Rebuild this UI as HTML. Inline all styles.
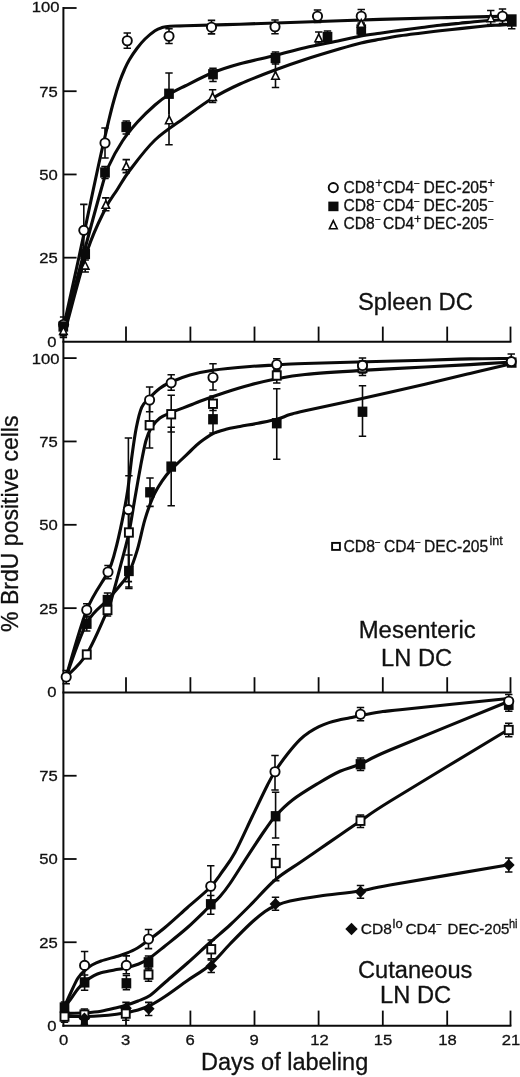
<!DOCTYPE html>
<html lang="en">
<head>
<meta charset="utf-8">
<title>BrdU labeling kinetics of dendritic cell subsets</title>
<style>
html,body{margin:0;padding:0;background:#fff;}
body{width:520px;height:1077px;overflow:hidden;}
svg{display:block;will-change:transform;opacity:0.999;}
text{font-family:"Liberation Sans",sans-serif;fill:#111;stroke:#111;stroke-width:0.3;}
.ax{stroke:#0a0a0a;stroke-width:2;fill:none;stroke-linecap:butt;}
.tk{stroke:#0a0a0a;stroke-width:1.8;fill:none;}
.cv{stroke:#0a0a0a;stroke-width:3.1;fill:none;stroke-linecap:round;stroke-linejoin:round;}
.eb{stroke:#0a0a0a;stroke-width:1.6;fill:none;}
.mo{stroke:#0a0a0a;stroke-width:1.9;fill:#fff;stroke-linejoin:miter;}
.mt{stroke:#0a0a0a;stroke-width:1.6;fill:#fff;stroke-linejoin:miter;}
.mf{stroke:none;fill:#0a0a0a;}
</style>
</head>
<body>
<svg width="520" height="1077" viewBox="0 0 520 1077">
<rect width="520" height="1077" fill="#fff"/>
<g>
<path class="ax" d="M63.4 7.1V1026.8"/>
<path class="ax" d="M62.4 341.8H511.4"/>
<path class="tk" d="M126 341.8V326.6"/>
<path class="tk" d="M190.4 341.8V326.6"/>
<path class="tk" d="M254.5 341.8V326.6"/>
<path class="tk" d="M318.6 341.8V326.6"/>
<path class="tk" d="M382.8 341.8V326.6"/>
<path class="tk" d="M447.2 341.8V326.6"/>
<path class="tk" d="M510.5 341.8V326.6"/>
<path class="tk" d="M63.4 257.67H76.6"/>
<path class="tk" d="M63.4 174.45H76.6"/>
<path class="tk" d="M63.4 91.22H76.6"/>
<path class="tk" d="M63.4 8H76.6"/>
<path class="ax" d="M62.4 692.4H511.4"/>
<path class="tk" d="M126 692.4V677.2"/>
<path class="tk" d="M190.4 692.4V677.2"/>
<path class="tk" d="M254.5 692.4V677.2"/>
<path class="tk" d="M318.6 692.4V677.2"/>
<path class="tk" d="M382.8 692.4V677.2"/>
<path class="tk" d="M447.2 692.4V677.2"/>
<path class="tk" d="M510.5 692.4V677.2"/>
<path class="tk" d="M63.4 608.15H76.6"/>
<path class="tk" d="M63.4 524.8H76.6"/>
<path class="tk" d="M63.4 441.45H76.6"/>
<path class="tk" d="M63.4 358.1H76.6"/>
<path class="ax" d="M62.4 1025.8H511.4"/>
<path class="tk" d="M126 1025.8V1010.6"/>
<path class="tk" d="M190.4 1025.8V1010.6"/>
<path class="tk" d="M254.5 1025.8V1010.6"/>
<path class="tk" d="M318.6 1025.8V1010.6"/>
<path class="tk" d="M382.8 1025.8V1010.6"/>
<path class="tk" d="M447.2 1025.8V1010.6"/>
<path class="tk" d="M510.5 1025.8V1010.6"/>
<path class="tk" d="M63.4 942.25H76.6"/>
<path class="tk" d="M63.4 859H76.6"/>
<path class="tk" d="M63.4 775.75H76.6"/>
<path class="cv" d="M66.6 325C70.07 312.58 80.93 269.88 87.4 250.5C93.87 231.12 100.47 218.78 105.4 208.7C110.33 198.62 112.9 196.45 117 190C121.1 183.55 123.67 178.33 130 170C136.33 161.67 145.83 148.75 155 140C164.17 131.25 175.42 124.45 185 117.5C194.58 110.55 203.33 103.88 212.5 98.3C221.67 92.72 229.58 88.72 240 84C250.42 79.28 264.17 74.08 275 70C285.83 65.92 294.17 63.03 305 59.5C315.83 55.97 330.67 51.55 340 48.8C349.33 46.05 354.33 44.58 361 43C367.67 41.42 373.5 40.5 380 39.3C386.5 38.1 393.33 36.82 400 35.8C406.67 34.78 413.33 34.03 420 33.2C426.67 32.37 433.33 31.57 440 30.8C446.67 30.03 453.33 29.32 460 28.6C466.67 27.88 474.17 27.05 480 26.5C485.83 25.95 490.33 25.63 495 25.3C499.67 24.97 505.83 24.63 508 24.5"/>
<path class="cv" d="M65 325C68.5 311.67 80 267.5 86 245C92 222.5 97.21 203.17 101 190C104.79 176.83 105.17 174.17 108.75 166C112.33 157.83 117.71 148.33 122.5 141C127.29 133.67 132.08 128 137.5 122C142.92 116 149.75 109.58 155 105C160.25 100.42 164 97.67 169 94.5C174 91.33 177.75 89.62 185 86C192.25 82.38 203.33 76.51 212.5 72.8C221.67 69.09 229.58 66.63 240 63.75C250.42 60.87 264.17 58.16 275 55.5C285.83 52.84 294.17 50.28 305 47.8C315.83 45.32 330.67 42.57 340 40.6C349.33 38.63 354.33 37.23 361 36C367.67 34.77 373.5 34.13 380 33.2C386.5 32.27 393.33 31.3 400 30.4C406.67 29.5 413.33 28.65 420 27.8C426.67 26.95 433.33 26.07 440 25.3C446.67 24.53 453.33 23.88 460 23.2C466.67 22.52 474.17 21.7 480 21.2C485.83 20.7 490.33 20.47 495 20.2C499.67 19.93 505.83 19.7 508 19.6"/>
<path class="cv" d="M64 325C66.5 313.67 74.13 279.5 79 257C83.87 234.5 89.53 207.17 93.2 190C96.87 172.83 98.41 165.58 101 154C103.59 142.42 106.58 129.5 108.75 120.5C110.92 111.5 112.19 106.45 114 100C115.81 93.55 117.85 86.88 119.6 81.8C121.35 76.72 122.9 73.13 124.5 69.5C126.1 65.87 127.13 63.5 129.2 60C131.27 56.5 134.27 52 136.9 48.5C139.53 45 141.98 41.97 145 39C148.02 36.03 152.17 32.6 155 30.7C157.83 28.8 159.5 28.35 162 27.6C164.5 26.85 166.17 26.51 170 26.2C173.83 25.89 173.33 26.08 185 25.75C196.67 25.42 220 24.82 240 24.2C260 23.57 281.67 22.8 305 22C328.33 21.2 357.5 20.1 380 19.4C402.5 18.7 422.05 18.27 440 17.8C457.95 17.33 477.37 16.85 487.7 16.6C498.03 16.35 499.62 16.35 502 16.3"/>
<path class="eb" d="M63.6 317V330M59.9 317H67.3M59.9 330H67.3"/>
<path class="eb" d="M83.8 204.4V256M80.1 204.4H87.5M80.1 256H87.5"/>
<path class="eb" d="M105 128V158M101.3 128H108.7M101.3 158H108.7"/>
<path class="eb" d="M127.25 33V48.3M123.55 33H130.95M123.55 48.3H130.95"/>
<path class="eb" d="M169 28.75V43.5M165.3 28.75H172.7M165.3 43.5H172.7"/>
<path class="eb" d="M211.5 20.4V33.9M207.8 20.4H215.2M207.8 33.9H215.2"/>
<path class="eb" d="M275 20V33.75M271.3 20H278.7M271.3 33.75H278.7"/>
<path class="eb" d="M317.5 10V22.5M313.8 10H321.2M313.8 22.5H321.2"/>
<path class="eb" d="M361.25 9.5V23M357.55 9.5H364.95M357.55 23H364.95"/>
<path class="eb" d="M502.5 9V23.5M498.8 9H506.2M498.8 23.5H506.2"/>
<path class="eb" d="M63.3 322V335.7M59.6 322H67M59.6 335.7H67"/>
<path class="eb" d="M85.2 248V260M81.5 248H88.9M81.5 260H88.9"/>
<path class="eb" d="M105 166.5V178.5M101.3 166.5H108.7M101.3 178.5H108.7"/>
<path class="eb" d="M126.25 121V134M122.55 121H129.95M122.55 134H129.95"/>
<path class="eb" d="M169 73V114M165.3 73H172.7"/>
<path class="eb" d="M213 68.3V81.5M209.3 68.3H216.7M209.3 81.5H216.7"/>
<path class="eb" d="M275.5 52V64M271.8 52H279.2M271.8 64H279.2"/>
<path class="eb" d="M327.5 31V43M323.8 31H331.2M323.8 43H331.2"/>
<path class="eb" d="M361.25 24V34.8M357.55 24H364.95M357.55 34.8H364.95"/>
<path class="eb" d="M511.75 16V28.75M508.05 16H515.45M508.05 28.75H515.45"/>
<path class="eb" d="M63.4 326V337.4M59.7 326H67.1M59.7 337.4H67.1"/>
<path class="eb" d="M85.2 258V272M81.5 258H88.9M81.5 272H88.9"/>
<path class="eb" d="M105.8 197.9V210.8M102.1 197.9H109.5M102.1 210.8H109.5"/>
<path class="eb" d="M126.25 159.6V172.6M122.55 159.6H129.95M122.55 172.6H129.95"/>
<path class="eb" d="M169 94.5V144.7M165.3 144.7H172.7"/>
<path class="eb" d="M212.6 89.7V102.4M208.9 89.7H216.3M208.9 102.4H216.3"/>
<path class="eb" d="M275.5 62.5V87.5M271.8 62.5H279.2M271.8 87.5H279.2"/>
<path class="eb" d="M318.75 32V43M315.05 32H322.45M315.05 43H322.45"/>
<path class="eb" d="M361.25 18V28M357.55 18H364.95M357.55 28H364.95"/>
<path class="eb" d="M490.75 10.5V24.5M487.05 10.5H494.45M487.05 24.5H494.45"/>
<circle class="mo" cx="63.6" cy="324.5" r="4.6"/>
<circle class="mo" cx="83.8" cy="230.3" r="4.6"/>
<circle class="mo" cx="105" cy="143" r="4.6"/>
<circle class="mo" cx="127.25" cy="40.75" r="4.6"/>
<circle class="mo" cx="169" cy="36.25" r="4.6"/>
<circle class="mo" cx="211.5" cy="27.2" r="4.6"/>
<circle class="mo" cx="275" cy="26.75" r="4.6"/>
<circle class="mo" cx="317.5" cy="16.25" r="4.6"/>
<circle class="mo" cx="361.25" cy="16.25" r="4.6"/>
<circle class="mo" cx="502.5" cy="16.25" r="4.6"/>
<rect class="mf" x="58.45" y="321.35" width="9.7" height="10.3"/>
<rect class="mf" x="80.35" y="248.85" width="9.7" height="10.3"/>
<rect class="mf" x="100.15" y="167.35" width="9.7" height="10.3"/>
<rect class="mf" x="121.4" y="121.85" width="9.7" height="10.3"/>
<rect class="mf" x="164.15" y="88.6" width="9.7" height="10.3"/>
<rect class="mf" x="208.15" y="69.1" width="9.7" height="10.3"/>
<rect class="mf" x="270.65" y="52.85" width="9.7" height="10.3"/>
<rect class="mf" x="322.65" y="31.85" width="9.7" height="10.3"/>
<rect class="mf" x="356.4" y="24.35" width="9.7" height="10.3"/>
<rect class="mf" x="506.9" y="14.3" width="9.7" height="12.4"/>
<path class="mt" d="M63.4 326.8L67.15 334.4H59.65Z"/>
<path class="mt" d="M85.2 261.5L88.95 269.1H81.45Z"/>
<path class="mt" d="M105.8 200.7L109.55 208.3H102.05Z"/>
<path class="mt" d="M126.25 162.2L130 169.8H122.5Z"/>
<path class="mt" d="M169.25 116.1L173 123.7H165.5Z"/>
<path class="mt" d="M212.6 92.9L216.35 100.5H208.85Z"/>
<path class="mt" d="M275.5 71.6L279.25 79.2H271.75Z"/>
<path class="mt" d="M318.75 34.1L322.5 41.7H315Z"/>
<path class="mt" d="M361.25 19.6L365 27.2H357.5Z"/>
<path class="mt" d="M490.75 14.1L494.5 21.7H487Z"/>
<path class="cv" d="M66 677C69.46 668 79.83 635.83 86.75 623C93.67 610.17 101.72 606.53 107.5 600C113.28 593.47 117.83 588.3 121.4 583.8C124.97 579.3 126.23 578.7 128.9 573C131.57 567.3 134.73 558.5 137.4 549.6C140.07 540.7 142.23 528.52 144.9 519.6C147.57 510.68 150.55 502.5 153.4 496.1C156.25 489.7 159.03 485.65 162 481.2C164.97 476.75 168.2 472.77 171.2 469.4C174.2 466.03 176.87 463.98 180 461C183.13 458.02 186.67 454.62 190 451.5C193.33 448.38 196.17 445.28 200 442.3C203.83 439.32 208.67 435.77 213 433.6C217.33 431.43 221.5 430.48 226 429.3C230.5 428.12 234.67 427.52 240 426.5C245.33 425.48 251.88 424.4 258 423.2C264.12 422 271.42 420.73 276.75 419.3C282.08 417.87 285.29 416.02 290 414.6C294.71 413.18 293 413.5 305 410.8C317 408.1 342 402.83 362 398.4C382 393.97 407 388.35 425 384.2C443 380.05 456.33 376.73 470 373.5C483.67 370.27 500.83 366.25 507 364.8"/>
<path class="cv" d="M66 677C69.46 673.17 79.83 665.17 86.75 654C93.67 642.83 103.16 619.92 107.5 610C111.84 600.08 110.48 602.43 112.8 594.5C115.12 586.57 118.72 572.65 121.4 562.4C124.08 552.15 126.77 542.98 128.9 533C131.03 523.02 132.25 513.63 134.2 502.5C136.15 491.37 138.63 476.53 140.6 466.2C142.57 455.87 144.22 446.92 146 440.5C147.78 434.08 148.98 431.43 151.3 427.7C153.62 423.97 156.58 420.63 159.9 418.1C163.22 415.57 166.18 414.63 171.2 412.5C176.22 410.37 185.2 407.18 190 405.3C194.8 403.43 194.17 403.38 200 401.25C205.83 399.12 216.67 395.21 225 392.5C233.33 389.79 241.38 387.29 250 385C258.62 382.71 267.58 380.5 276.75 378.75C285.92 377 290.79 375.89 305 374.5C319.21 373.11 342 371.65 362 370.4C382 369.15 407 367.97 425 367C443 366.03 456.17 365.4 470 364.6C483.83 363.8 501.67 362.6 508 362.2"/>
<path class="cv" d="M66 677C69.46 665.83 79.75 627.5 86.75 610C93.75 592.5 103.29 581.72 108 572C112.71 562.28 112.6 560.43 115 551.7C117.4 542.97 120.27 529.93 122.4 519.6C124.53 509.27 126.2 500.38 127.8 489.7C129.4 479.02 130.58 465.83 132 455.5C133.42 445.17 134.68 435.72 136.3 427.7C137.92 419.68 139.48 412.38 141.7 407.4C143.92 402.42 146.57 401 149.6 397.8C152.63 394.6 156.33 390.83 159.9 388.2C163.47 385.57 165.98 384.2 171 382C176.02 379.8 183 376.97 190 375C197 373.03 203 371.62 213 370.2C223 368.78 239.38 367.37 250 366.5C260.62 365.63 267.58 365.5 276.75 365C285.92 364.5 280.29 364.3 305 363.5C329.71 362.7 397.5 360.97 425 360.2C452.5 359.43 456.17 359.18 470 358.9C483.83 358.62 501.67 358.57 508 358.5"/>
<path class="eb" d="M86.75 617V631M83.05 617H90.45M83.05 631H90.45"/>
<path class="eb" d="M107.5 593V607M103.8 593H111.2M103.8 607H111.2"/>
<path class="eb" d="M128.9 555V587M125.2 555H132.6M125.2 587H132.6"/>
<path class="eb" d="M150 478V506.4M146.3 478H153.7M146.3 506.4H153.7"/>
<path class="eb" d="M171.2 427.3V505.7M167.5 427.3H174.9M167.5 505.7H174.9"/>
<path class="eb" d="M213 405.5V433M209.3 405.5H216.7M209.3 433H216.7"/>
<path class="eb" d="M276.75 388.75V459.25M273.05 388.75H280.45M273.05 459.25H280.45"/>
<path class="eb" d="M362.5 385.75V436.25M358.8 385.75H366.2M358.8 436.25H366.2"/>
<path class="eb" d="M86.75 651V658M83.05 651H90.45M83.05 658H90.45"/>
<path class="eb" d="M107.5 604V616M103.8 604H111.2M103.8 616H111.2"/>
<path class="eb" d="M128.9 475.8V588.5M125.2 475.8H132.6M125.2 588.5H132.6"/>
<path class="eb" d="M149.6 402V448M145.9 402H153.3M145.9 448H153.3"/>
<path class="eb" d="M171.2 395.2V432M167.5 395.2H174.9M167.5 432H174.9"/>
<path class="eb" d="M213 396V410.5M209.3 396H216.7M209.3 410.5H216.7"/>
<path class="eb" d="M276.75 369V383M273.05 369H280.45M273.05 383H280.45"/>
<path class="eb" d="M362.5 361V375.5M358.8 361H366.2M358.8 375.5H366.2"/>
<path class="eb" d="M66.2 670.5V683.7M62.5 670.5H69.9M62.5 683.7H69.9"/>
<path class="eb" d="M86.75 603.75V616.3M83.05 603.75H90.45M83.05 616.3H90.45"/>
<path class="eb" d="M108 565.5V578.75M104.3 565.5H111.7M104.3 578.75H111.7"/>
<path class="eb" d="M128.4 438V581.6M124.7 438H132.1M124.7 581.6H132.1"/>
<path class="eb" d="M149.6 387V411.7M145.9 387H153.3M145.9 411.7H153.3"/>
<path class="eb" d="M171.2 374.7V390.3M167.5 374.7H174.9M167.5 390.3H174.9"/>
<path class="eb" d="M213 363.75V390M209.3 363.75H216.7M209.3 390H216.7"/>
<path class="eb" d="M276.75 358.75V370.3M273.05 358.75H280.45M273.05 370.3H280.45"/>
<path class="eb" d="M362.5 358V373M358.8 358H366.2M358.8 373H366.2"/>
<path class="eb" d="M511.25 354V366M507.55 354H514.95M507.55 366H514.95"/>
<rect class="mf" x="81.9" y="618.6" width="9.7" height="10.3"/>
<rect class="mf" x="102.65" y="594.85" width="9.7" height="10.3"/>
<rect class="mf" x="124.05" y="565.85" width="9.7" height="10.3"/>
<rect class="mf" x="145.15" y="487.15" width="9.7" height="10.3"/>
<rect class="mf" x="166.35" y="461.45" width="9.7" height="10.3"/>
<rect class="mf" x="208.15" y="414.1" width="9.7" height="10.3"/>
<rect class="mf" x="271.9" y="418.1" width="9.7" height="10.3"/>
<rect class="mf" x="357.65" y="406.6" width="9.7" height="10.3"/>
<rect class="mf" x="506.85" y="357.45" width="9.7" height="10.3"/>
<rect class="mo" x="82.75" y="650.3" width="8" height="8.4"/>
<rect class="mo" x="103.5" y="605.8" width="8" height="8.4"/>
<rect class="mo" x="124.9" y="528.3" width="8" height="8.4"/>
<rect class="mo" x="145.6" y="421" width="8" height="8.4"/>
<rect class="mo" x="167.2" y="410.05" width="8" height="8.4"/>
<rect class="mo" x="209" y="399.55" width="8" height="8.4"/>
<rect class="mo" x="272.75" y="371.3" width="8" height="8.4"/>
<rect class="mo" x="358.5" y="363.8" width="8" height="8.4"/>
<circle class="mo" cx="66.2" cy="677" r="4.6"/>
<circle class="mo" cx="86.75" cy="610" r="4.6"/>
<circle class="mo" cx="108" cy="572" r="4.6"/>
<circle class="mo" cx="128.4" cy="509.6" r="4.6"/>
<circle class="mo" cx="149.6" cy="400" r="4.6"/>
<circle class="mo" cx="171.2" cy="382.8" r="4.6"/>
<circle class="mo" cx="213" cy="377.5" r="4.6"/>
<circle class="mo" cx="276.75" cy="364.5" r="4.6"/>
<circle class="mo" cx="362.5" cy="365.5" r="4.6"/>
<circle class="mo" cx="511.25" cy="361.6" r="4.6"/>
<path class="cv" d="M64 1016.5C67.63 1016.5 79.63 1016.62 85.8 1016.5C91.97 1016.38 95.88 1016.18 101 1015.8C106.12 1015.42 112.37 1014.72 116.5 1014.2C120.63 1013.68 122.22 1013.4 125.8 1012.7C129.38 1012 133.97 1011.2 138 1010C142.03 1008.8 145.5 1007.75 150 1005.5C154.5 1003.25 158.75 1000.67 165 996.5C171.25 992.33 180 985.75 187.5 980.5C195 975.25 202.92 971.08 210 965C217.08 958.92 223.33 950.83 230 944C236.67 937.17 244.17 929.42 250 924C255.83 918.58 260.83 914.5 265 911.5C269.17 908.5 270.83 907.75 275 906C279.17 904.25 282.5 902.67 290 901C297.5 899.33 308.33 897.67 320 896C331.67 894.33 348.33 892.83 360 891C371.67 889.17 365.67 889.28 390 885C414.33 880.72 486.67 868.58 506 865.3"/>
<path class="cv" d="M64 1013.5C67.63 1013.37 79.63 1013.08 85.8 1012.7C91.97 1012.32 95.88 1012.02 101 1011.2C106.12 1010.38 112.37 1008.78 116.5 1007.8C120.63 1006.82 122.22 1006.43 125.8 1005.3C129.38 1004.17 133.97 1002.63 138 1001C142.03 999.37 145.5 998.58 150 995.5C154.5 992.42 158.75 987.92 165 982.5C171.25 977.08 180 969.67 187.5 963C195 956.33 202.92 948.83 210 942.5C217.08 936.17 223.33 931.17 230 925C236.67 918.83 242.5 913 250 905.5C257.5 898 266.67 887.17 275 880C283.33 872.83 292.5 867.71 300 862.5C307.5 857.29 313.33 853.33 320 848.75C326.67 844.17 333.25 839.62 340 835C346.75 830.38 352.17 826.62 360.5 821C368.83 815.38 365.75 816.25 390 801.25C414.25 786.25 486.67 742.71 506 731"/>
<path class="cv" d="M64.2 1007.3C65.23 1006.02 68.1 1002.68 70.4 999.6C72.7 996.52 75.43 991.9 78 988.8C80.57 985.7 83.22 983.17 85.8 981C88.38 978.83 90.97 977.18 93.5 975.8C96.03 974.42 97.17 973.73 101 972.7C104.83 971.67 112.37 970.38 116.5 969.6C120.63 968.82 122.22 968.88 125.8 968C129.38 967.12 134.18 965.84 138 964.3C141.82 962.76 144.25 961.8 148.75 958.75C153.25 955.7 158.54 951.21 165 946C171.46 940.79 180 934.17 187.5 927.5C195 920.83 204.58 911.17 210 906C215.42 900.83 216.67 900.25 220 896.5C223.33 892.75 225.42 890.2 230 883.5C234.58 876.8 241.67 865.22 247.5 856.3C253.33 847.38 260.33 836.72 265 830C269.67 823.28 270.92 821 275.5 816C280.08 811 285.5 805.38 292.5 800C299.5 794.62 309.58 788.54 317.5 783.75C325.42 778.96 332.83 774.54 340 771.25C347.17 767.96 352.17 767.54 360.5 764C368.83 760.46 365.75 760.25 390 750C414.25 739.75 486.67 710.42 506 702.5"/>
<path class="cv" d="M64.2 1007.3C65.23 1005 68.1 998.38 70.4 993.5C72.7 988.62 75.43 981.98 78 978C80.57 974.02 83.47 971.77 85.8 969.6C88.13 967.43 89.47 966.43 92 965C94.53 963.57 96.92 962.42 101 961C105.08 959.58 112.37 957.75 116.5 956.5C120.63 955.25 122.3 954.92 125.8 953.5C129.3 952.08 133.68 950.25 137.5 948C141.32 945.75 144.17 943.42 148.75 940C153.33 936.58 158.54 932.92 165 927.5C171.46 922.08 180 914.17 187.5 907.5C195 900.83 204.25 893.42 210 887.5C215.75 881.58 217.83 877.83 222 872C226.17 866.17 229.92 861.83 235 852.5C240.08 843.17 247.08 827.25 252.5 816C257.92 804.75 263.75 792.42 267.5 785C271.25 777.58 271.67 776.67 275 771.5C278.33 766.33 283.33 759.32 287.5 754C291.67 748.68 296.25 743.3 300 739.6C303.75 735.9 306.83 733.97 310 731.8C313.17 729.63 315.83 728.13 319 726.6C322.17 725.07 325.83 723.67 329 722.6C332.17 721.53 334.5 721 338 720.2C341.5 719.4 346.25 718.58 350 717.8C353.75 717.02 355.5 716.47 360.5 715.5C365.5 714.53 373.42 712.97 380 712C386.58 711.03 379 711.91 400 709.7C421 707.49 488.33 700.58 506 698.75"/>
<path class="eb" d="M84.4 1013V1024.6M80.7 1013H88.1M80.7 1024.6H88.1"/>
<path class="eb" d="M126 1002.4V1013M122.3 1002.4H129.7M122.3 1013H129.7"/>
<path class="eb" d="M148.7 1002.4V1015.5M145 1002.4H152.4M145 1015.5H152.4"/>
<path class="eb" d="M211.25 960V972.5M207.55 960H214.95M207.55 972.5H214.95"/>
<path class="eb" d="M275.5 897.25V910.25M271.8 897.25H279.2M271.8 910.25H279.2"/>
<path class="eb" d="M360.5 885.5V898.25M356.8 885.5H364.2M356.8 898.25H364.2"/>
<path class="eb" d="M508.75 858V872M505.05 858H512.45M505.05 872H512.45"/>
<path class="eb" d="M64.5 1002V1013M60.8 1002H68.2M60.8 1013H68.2"/>
<path class="eb" d="M84.6 975V990.2M80.9 975H88.3M80.9 990.2H88.3"/>
<path class="eb" d="M126.4 975.5V989.8M122.7 975.5H130.1M122.7 989.8H130.1"/>
<path class="eb" d="M148.5 956V969M144.8 956H152.2M144.8 969H152.2"/>
<path class="eb" d="M210.75 895.5V914.25M207.05 895.5H214.45M207.05 914.25H214.45"/>
<path class="eb" d="M275.6 792.3V838M271.9 792.3H279.3M271.9 838H279.3"/>
<path class="eb" d="M360.5 758V770.5M356.8 758H364.2M356.8 770.5H364.2"/>
<path class="eb" d="M508.75 699V711.25M505.05 699H512.45M505.05 711.25H512.45"/>
<path class="eb" d="M64.5 1011V1022.3M60.8 1011H68.2M60.8 1022.3H68.2"/>
<path class="eb" d="M84.4 1009V1019M80.7 1009H88.1M80.7 1019H88.1"/>
<path class="eb" d="M125.75 1008V1020.3M122.05 1008H129.45M122.05 1020.3H129.45"/>
<path class="eb" d="M148.5 968V981.2M144.8 968H152.2M144.8 981.2H152.2"/>
<path class="eb" d="M211.25 940V958.75M207.55 940H214.95M207.55 958.75H214.95"/>
<path class="eb" d="M275.75 844.7V880.6M272.05 844.7H279.45M272.05 880.6H279.45"/>
<path class="eb" d="M360.5 815V827.5M356.8 815H364.2M356.8 827.5H364.2"/>
<path class="eb" d="M508.75 723.25V736.75M505.05 723.25H512.45M505.05 736.75H512.45"/>
<path class="eb" d="M84.6 951.5V979.5M80.9 951.5H88.3M80.9 979.5H88.3"/>
<path class="eb" d="M126.3 955.9V973.8M122.6 955.9H130M122.6 973.8H130"/>
<path class="eb" d="M148.5 929.5V948.6M144.8 929.5H152.2M144.8 948.6H152.2"/>
<path class="eb" d="M210.75 865.75V906M207.05 865.75H214.45M207.05 906H214.45"/>
<path class="eb" d="M275 755.5V790M271.3 755.5H278.7M271.3 790H278.7"/>
<path class="eb" d="M360.5 707.5V720.75M356.8 707.5H364.2M356.8 720.75H364.2"/>
<path class="eb" d="M508.75 694.5V708M505.05 694.5H512.45M505.05 708H512.45"/>
<path class="mf" d="M84.4 1012.1L90.3 1018L84.4 1023.9L78.5 1018Z"/>
<path class="mf" d="M126 1002.3L131.9 1008.2L126 1014.1L120.1 1008.2Z"/>
<path class="mf" d="M148.7 1002.85L154.6 1008.75L148.7 1014.65L142.8 1008.75Z"/>
<path class="mf" d="M211.25 960.35L217.15 966.25L211.25 972.15L205.35 966.25Z"/>
<path class="mf" d="M275.5 898.1L281.4 904L275.5 909.9L269.6 904Z"/>
<path class="mf" d="M360.5 885.85L366.4 891.75L360.5 897.65L354.6 891.75Z"/>
<path class="mf" d="M508.75 859.1L514.65 865L508.75 870.9L502.85 865Z"/>
<rect class="mf" x="59.65" y="1002.35" width="9.7" height="10.3"/>
<rect class="mf" x="79.75" y="977.25" width="9.7" height="10.3"/>
<rect class="mf" x="121.55" y="978.15" width="9.7" height="10.3"/>
<rect class="mf" x="143.65" y="957.15" width="9.7" height="10.3"/>
<rect class="mf" x="205.9" y="899.1" width="9.7" height="10.3"/>
<rect class="mf" x="270.75" y="811.1" width="9.7" height="10.3"/>
<rect class="mf" x="355.65" y="759.1" width="9.7" height="10.3"/>
<rect class="mf" x="503.9" y="699.65" width="9.7" height="10.3"/>
<rect class="mo" x="60.5" y="1012.4" width="8" height="8.4"/>
<rect class="mo" x="80.4" y="1010.4" width="8" height="8.4"/>
<rect class="mo" x="121.75" y="1009.4" width="8" height="8.4"/>
<rect class="mo" x="144.5" y="970.4" width="8" height="8.4"/>
<rect class="mo" x="207.25" y="945.05" width="8" height="8.4"/>
<rect class="mo" x="271.75" y="858.8" width="8" height="8.4"/>
<rect class="mo" x="356.5" y="816.55" width="8" height="8.4"/>
<rect class="mo" x="504.75" y="725.8" width="8" height="8.4"/>
<path class="mf" d="M84.4 1012.4L90 1018L84.4 1023.6L78.8 1018Z"/>
<rect class="mf" x="80.9" y="1019" width="7" height="6"/>
<circle class="mo" cx="84.6" cy="965.4" r="4.6"/>
<circle class="mo" cx="126.3" cy="965.4" r="4.6"/>
<circle class="mo" cx="148.5" cy="939" r="4.6"/>
<circle class="mo" cx="210.75" cy="886.25" r="4.6"/>
<circle class="mo" cx="275" cy="771.75" r="4.6"/>
<circle class="mo" cx="360.5" cy="714.25" r="4.6"/>
<circle class="mo" cx="508.75" cy="701.25" r="4.6"/>
<circle class="mo" cx="333.3" cy="187.6" r="4.6"/>
<rect class="mf" x="328.3" y="201.6" width="10.2" height="9.6"/>
<path class="mt" d="M333.3 220.7L337.2 228.7H329.4Z"/>
<rect class="mo" x="332.1" y="542.9" width="7.8" height="7"/>
<path class="mf" d="M351.5 922.8L357.7 929L351.5 935.2L345.3 929Z"/>
</g>
<g>
<text x="56.6" y="346.5" font-size="15.2" text-anchor="end" textLength="9.25" lengthAdjust="spacingAndGlyphs">0</text>
<text x="57.8" y="263.07" font-size="15.2" text-anchor="end" textLength="18.5" lengthAdjust="spacingAndGlyphs">25</text>
<text x="57.8" y="179.85" font-size="15.2" text-anchor="end" textLength="18.5" lengthAdjust="spacingAndGlyphs">50</text>
<text x="57.8" y="96.62" font-size="15.2" text-anchor="end" textLength="18.5" lengthAdjust="spacingAndGlyphs">75</text>
<text x="59.6" y="11.7" font-size="15.2" text-anchor="end" textLength="27.75" lengthAdjust="spacingAndGlyphs">100</text>
<text x="56.6" y="697.1" font-size="15.2" text-anchor="end" textLength="9.25" lengthAdjust="spacingAndGlyphs">0</text>
<text x="57.8" y="613.55" font-size="15.2" text-anchor="end" textLength="18.5" lengthAdjust="spacingAndGlyphs">25</text>
<text x="57.8" y="530.2" font-size="15.2" text-anchor="end" textLength="18.5" lengthAdjust="spacingAndGlyphs">50</text>
<text x="57.8" y="446.85" font-size="15.2" text-anchor="end" textLength="18.5" lengthAdjust="spacingAndGlyphs">75</text>
<text x="59.6" y="363.5" font-size="15.2" text-anchor="end" textLength="27.75" lengthAdjust="spacingAndGlyphs">100</text>
<text x="56.6" y="1030.5" font-size="15.2" text-anchor="end" textLength="9.25" lengthAdjust="spacingAndGlyphs">0</text>
<text x="57.8" y="947.65" font-size="15.2" text-anchor="end" textLength="18.5" lengthAdjust="spacingAndGlyphs">25</text>
<text x="57.8" y="864.4" font-size="15.2" text-anchor="end" textLength="18.5" lengthAdjust="spacingAndGlyphs">50</text>
<text x="57.8" y="781.15" font-size="15.2" text-anchor="end" textLength="18.5" lengthAdjust="spacingAndGlyphs">75</text>
<text x="63.5" y="1044.8" font-size="15.2" text-anchor="middle" textLength="9.25" lengthAdjust="spacingAndGlyphs">0</text>
<text x="125.7" y="1044.8" font-size="15.2" text-anchor="middle" textLength="9.25" lengthAdjust="spacingAndGlyphs">3</text>
<text x="190.1" y="1044.8" font-size="15.2" text-anchor="middle" textLength="9.25" lengthAdjust="spacingAndGlyphs">6</text>
<text x="254.2" y="1044.8" font-size="15.2" text-anchor="middle" textLength="9.25" lengthAdjust="spacingAndGlyphs">9</text>
<text x="319.5" y="1044.8" font-size="15.2" text-anchor="middle" textLength="18.5" lengthAdjust="spacingAndGlyphs">12</text>
<text x="383" y="1044.8" font-size="15.2" text-anchor="middle" textLength="18.5" lengthAdjust="spacingAndGlyphs">15</text>
<text x="447.4" y="1044.8" font-size="15.2" text-anchor="middle" textLength="18.5" lengthAdjust="spacingAndGlyphs">18</text>
<text x="511.1" y="1044.8" font-size="15.2" text-anchor="middle" textLength="18.5" lengthAdjust="spacingAndGlyphs">21</text>
<text x="201" y="1069.6" font-size="23.3" textLength="167.2" lengthAdjust="spacingAndGlyphs">Days of labeling</text>
<text transform="translate(17.9 632) rotate(-90)" font-size="23.2" textLength="216.5" lengthAdjust="spacingAndGlyphs">% BrdU positive cells</text>
<text x="415.4" y="310.2" font-size="23.5" text-anchor="middle" textLength="115" lengthAdjust="spacingAndGlyphs">Spleen DC</text>
<text x="417.2" y="637.6" font-size="23.5" text-anchor="middle" textLength="117" lengthAdjust="spacingAndGlyphs">Mesenteric</text>
<text x="416.6" y="666.2" font-size="23.5" text-anchor="middle" textLength="71" lengthAdjust="spacingAndGlyphs">LN DC</text>
<text x="415.2" y="977.6" font-size="23.5" text-anchor="middle" textLength="114.3" lengthAdjust="spacingAndGlyphs">Cutaneous</text>
<text x="415.6" y="1003.3" font-size="23.5" text-anchor="middle" textLength="71" lengthAdjust="spacingAndGlyphs">LN DC</text>
<text x="343.6" y="192.7" font-size="16" textLength="31.2" lengthAdjust="spacingAndGlyphs">CD8</text>
<text x="375.2" y="186.8" font-size="12.5">+</text>
<text x="383" y="192.7" font-size="16" textLength="31.2" lengthAdjust="spacingAndGlyphs">CD4</text>
<text x="414.2" y="186.8" font-size="12.5" textLength="5" lengthAdjust="spacingAndGlyphs">–</text>
<text x="423.4" y="192.7" font-size="16" textLength="64.4" lengthAdjust="spacingAndGlyphs">DEC-205</text>
<text x="487.6" y="186.8" font-size="12.5">+</text>
<text x="343.6" y="211.2" font-size="16" textLength="31.2" lengthAdjust="spacingAndGlyphs">CD8</text>
<text x="375.2" y="205.3" font-size="12.5" textLength="5" lengthAdjust="spacingAndGlyphs">–</text>
<text x="383" y="211.2" font-size="16" textLength="31.2" lengthAdjust="spacingAndGlyphs">CD4</text>
<text x="414.2" y="205.3" font-size="12.5" textLength="5" lengthAdjust="spacingAndGlyphs">–</text>
<text x="423.4" y="211.2" font-size="16" textLength="64.4" lengthAdjust="spacingAndGlyphs">DEC-205</text>
<text x="488.2" y="205.3" font-size="12.5" textLength="5" lengthAdjust="spacingAndGlyphs">–</text>
<text x="343.6" y="229.2" font-size="16" textLength="31.2" lengthAdjust="spacingAndGlyphs">CD8</text>
<text x="375.2" y="223.3" font-size="12.5" textLength="5" lengthAdjust="spacingAndGlyphs">–</text>
<text x="383" y="229.2" font-size="16" textLength="31.2" lengthAdjust="spacingAndGlyphs">CD4</text>
<text x="414" y="223.3" font-size="12.5">+</text>
<text x="423.4" y="229.2" font-size="16" textLength="64.4" lengthAdjust="spacingAndGlyphs">DEC-205</text>
<text x="488.2" y="223.3" font-size="12.5" textLength="5" lengthAdjust="spacingAndGlyphs">–</text>
<text x="343.4" y="551.6" font-size="16" textLength="31.6" lengthAdjust="spacingAndGlyphs">CD8</text>
<text x="375" y="545.7" font-size="12.5" textLength="5" lengthAdjust="spacingAndGlyphs">–</text>
<text x="384" y="551.6" font-size="16" textLength="31.2" lengthAdjust="spacingAndGlyphs">CD4</text>
<text x="415.2" y="545.7" font-size="12.5" textLength="5" lengthAdjust="spacingAndGlyphs">–</text>
<text x="424" y="551.6" font-size="16" textLength="64.2" lengthAdjust="spacingAndGlyphs">DEC-205</text>
<text x="489.6" y="545.3" font-size="12.5">int</text>
<text x="360.8" y="934.4" font-size="15" textLength="31.2" lengthAdjust="spacingAndGlyphs">CD8</text>
<text x="392.5" y="927.7" font-size="13">lo</text>
<text x="405.4" y="934.4" font-size="15" textLength="31" lengthAdjust="spacingAndGlyphs">CD4</text>
<text x="436.3" y="928.1" font-size="13" textLength="5" lengthAdjust="spacingAndGlyphs">–</text>
<text x="447.6" y="934.4" font-size="15" textLength="61.8" lengthAdjust="spacingAndGlyphs">DEC-205</text>
<text x="508.9" y="927.7" font-size="13" textLength="8.6" lengthAdjust="spacingAndGlyphs">hi</text>
</g>
</svg>
</body>
</html>
